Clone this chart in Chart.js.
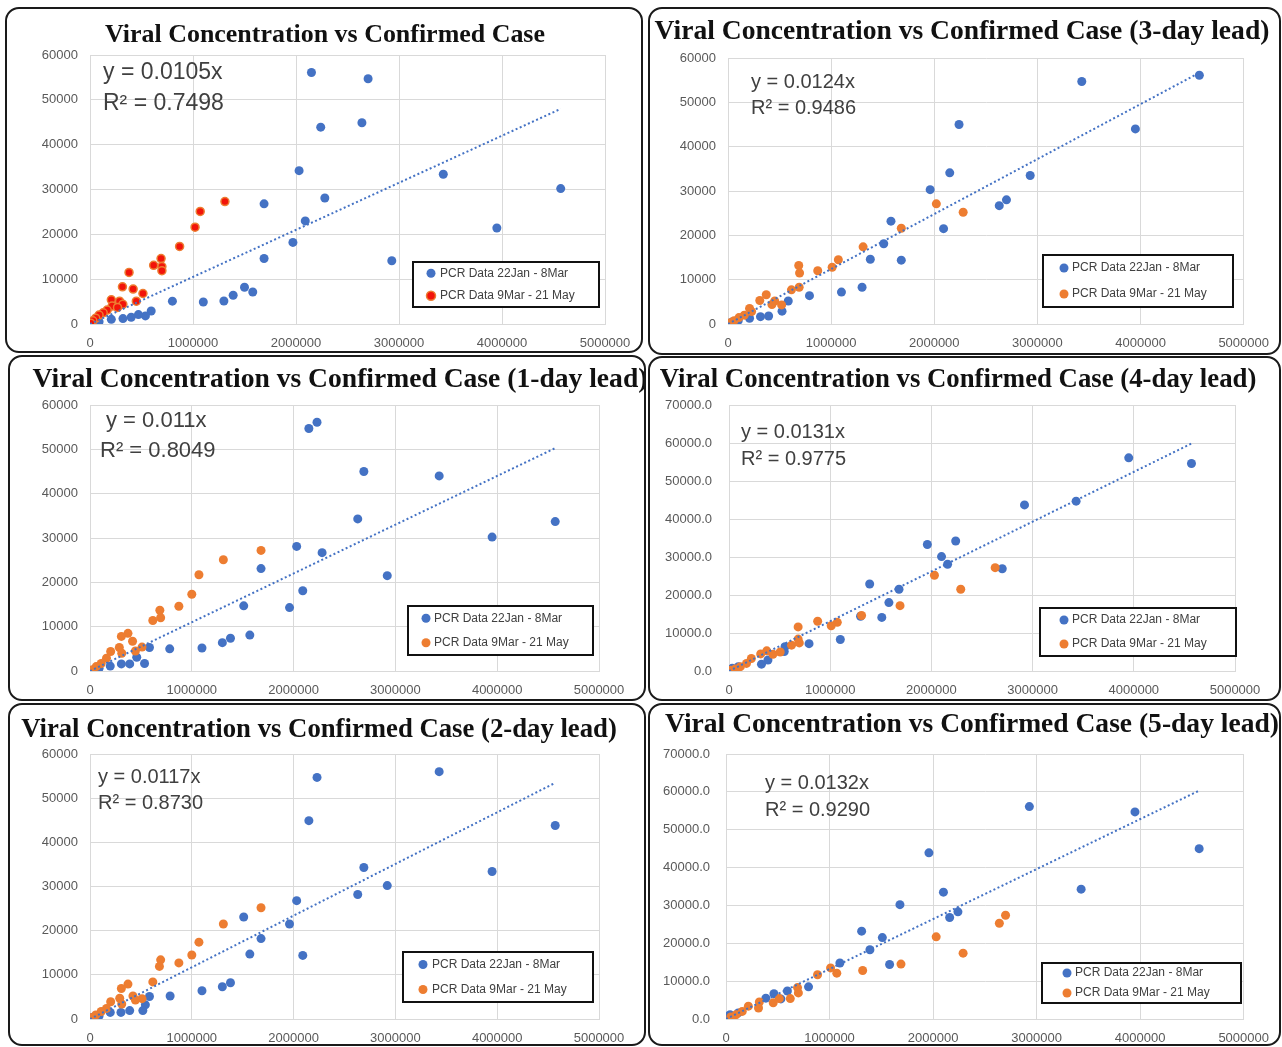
<!DOCTYPE html>
<html>
<head>
<meta charset="utf-8">
<script src="https://cdn.jsdelivr.net/npm/chart.js@4"></script>
<style>
  body { margin: 0; background: #fff; width: 1282px; height: 1047px; position: relative; overflow: hidden; }
  canvas { position: absolute; }
  .frame { position: absolute; box-sizing: border-box; border: 2px solid #1a1a1a; border-radius: 14px; pointer-events: none; }
</style>
</head>
<body>
<script>
// ---- data: [confirmed case, viral concentration] ----
const lead0Early = [[2150000,56100],[2700000,54700],[2240000,43900],[2640000,44900],[2030000,34200],[3430000,33400],[4570000,30200],[2280000,28100],[1690000,26800],[2090000,23000],[3950000,21400],[1970000,18200],[1690000,14600],[2930000,14100],[1500000,8200],[1580000,7150],[1390000,6400],[1300000,5140],[1100000,4900],[800000,5100],[594000,2900],[538000,1800],[470000,2100],[400000,1500],[320000,1200],[207000,1040],[88000,520],[40000,300],[8000,150]];
const lead0Late = [[1310000,27300],[1070000,25100],[1020000,21600],[870000,17300],[690000,14600],[698000,12800],[698000,11900],[618000,13100],[379000,11500],[315000,8300],[419000,7800],[514000,6800],[207000,5400],[287000,5100],[450000,5100],[319000,4400],[215000,4000],[267000,3700],[167000,3100],[128000,2500],[88000,2000],[56000,1300],[28000,700],[8000,150]];

const lead1Early = [[2230000,56100],[2150000,54700],[2690000,45000],[3430000,44000],[2630000,34300],[4570000,33700],[3950000,30200],[2030000,28100],[2280000,26700],[1680000,23100],[2920000,21500],[2090000,18100],[1510000,14700],[1960000,14300],[1570000,8100],[1380000,7400],[1300000,6400],[1100000,5200],[783000,5000],[584000,5300],[459000,3100],[536000,1700],[390000,1600],[308000,1600],[199000,1100],[89000,600],[28000,200]];
const lead1Late = [[1680000,27200],[1310000,25100],[1070000,21700],[1000000,17300],[873000,14600],[686000,13700],[694000,12000],[617000,11400],[373000,8500],[308000,7800],[418000,6700],[511000,5400],[446000,4500],[288000,5300],[312000,4000],[203000,4400],[162000,2900],[110000,1700],[61000,1000],[16000,230]];

const lead2Early = [[3430000,56000],[2230000,54700],[2150000,44900],[4570000,43800],[2690000,34300],[3950000,33400],[2920000,30200],[2630000,28200],[2030000,26800],[1510000,23100],[1960000,21500],[1680000,18200],[1570000,14700],[2090000,14400],[1380000,8200],[1300000,7300],[1100000,6400],[787000,5200],[584000,5100],[544000,3200],[519000,1900],[390000,1900],[304000,1500],[199000,1500],[89000,680],[28000,380]];
const lead2Late = [[1680000,25200],[1310000,21500],[1070000,17400],[1000000,14500],[873000,12700],[694000,13400],[682000,11900],[617000,8400],[373000,7900],[308000,6900],[422000,5200],[511000,4600],[446000,4300],[312000,3400],[203000,3900],[292000,4700],[162000,2400],[110000,1700],[57000,910],[8000,300]];

const lead3Early = [[4570000,56100],[3430000,54700],[2240000,45000],[3950000,44000],[2150000,34100],[2930000,33500],[1960000,30300],[2700000,28000],[2630000,26700],[1580000,23200],[2090000,21500],[1510000,18100],[1380000,14600],[1680000,14400],[1300000,8300],[1100000,7200],[790000,6400],[584000,5200],[524000,2900],[394000,1800],[315000,1650],[209000,1300],[99000,750],[40000,450]];
const lead3Late = [[2020000,27100],[2280000,25200],[1680000,21600],[1310000,17400],[1070000,14500],[1010000,12800],[870000,12000],[686000,13200],[694000,11500],[690000,8300],[615000,7700],[371000,6600],[308000,5300],[453000,5200],[426000,4400],[520000,4300],[209000,3500],[229000,2800],[158000,2000],[106000,1450],[59000,750],[20000,300]];

const lead4Early = [[3950000,56100],[4570000,54600],[2920000,43700],[3430000,44700],[2240000,34200],[1960000,33300],[2100000,30100],[2160000,28100],[2700000,26900],[1390000,22900],[1680000,21500],[1580000,18000],[1510000,14100],[1300000,14400],[1100000,8300],[791000,7200],[546000,5100],[554000,6400],[385000,2900],[321000,1800],[92000,1150],[32000,700]];
const lead4Late = [[2630000,27200],[2030000,25200],[2290000,21500],[1690000,17200],[1310000,14600],[876000,13100],[1070000,12800],[1010000,11900],[683000,11600],[683000,8400],[695000,7400],[618000,6800],[373000,5300],[506000,5000],[434000,4400],[313000,4500],[221000,3300],[173000,2000],[112000,1150],[60000,500],[12000,180]];

const lead5Early = [[2930000,56100],[3950000,54700],[4570000,45000],[1960000,43900],[3430000,34300],[2100000,33500],[1680000,30200],[2240000,28300],[2160000,26800],[1310000,23200],[1510000,21500],[1390000,18300],[1580000,14400],[1100000,14800],[797000,8500],[593000,7400],[463000,6700],[385000,5500],[530000,5300],[118000,1600],[39000,1150],[10000,700]];
const lead5Late = [[2700000,27400],[2640000,25300],[2030000,21700],[2290000,17400],[1690000,14500],[1320000,12800],[1010000,13500],[1070000,12100],[884000,11700],[691000,8300],[699000,6900],[621000,5400],[515000,5400],[456000,4300],[322000,4500],[314000,2900],[216000,3400],[157000,2000],[98000,1150],[47000,530]];

const titles = ['Viral Concentration vs Confirmed Case', 'Viral Concentration vs Confirmed Case (1-day lead)', 'Viral Concentration vs Confirmed Case (2-day lead)',
                'Viral Concentration vs Confirmed Case (3-day lead)', 'Viral Concentration vs Confirmed Case (4-day lead)', 'Viral Concentration vs Confirmed Case (5-day lead)'];
const slopes = [0.0105, 0.011, 0.0117, 0.0124, 0.0131, 0.0132];
const rSquared = [0.7498, 0.8049, 0.8730, 0.9486, 0.9775, 0.9290];
const yMaxes = [60000, 60000, 60000, 60000, 70000, 70000];
const seriesNames = ['PCR Data 22Jan - 8Mar', 'PCR Data 9Mar - 21 May'];
const earlySets = [lead0Early, lead1Early, lead2Early, lead3Early, lead4Early, lead5Early];
const lateSets = [lead0Late, lead1Late, lead2Late, lead3Late, lead4Late, lead5Late];

// ---- layout (page pixels) ----
const layouts = [
  { box:[5,7,638,346],   plot:[90,55,605,324],    title:[325,35,440],  eq:[103,73,104,23], leg:[413,262,186,45,431,440], yPad:12 },
  { box:[8,355,638,346], plot:[90,405,599,671],   title:[340,380,615], eq:[106,421,451,22], leg:[408,606,185,49,426,434], yPad:12, eqX2:100 },
  { box:[8,703,638,343], plot:[90,754,599,1019],  title:[319,730,596], eq:[98,777,803,20],  leg:[403,952,190,50,423,432], yPad:12 },
  { box:[648,7,633,348], plot:[728,58,1244,324],  title:[962,32,615],  eq:[751,82,108,20],  leg:[1043,255,190,52,1064,1072], yPad:12 },
  { box:[648,356,633,345], plot:[729,405,1235,671], title:[958,380,597], eq:[741,432,459,20], leg:[1040,608,196,48,1064,1072], yPad:17 },
  { box:[648,703,633,343], plot:[726,754,1244,1019], title:[972,725,614], eq:[765,783,810,20], leg:[1042,963,199,40,1067,1075], yPad:16 }
];

const BLUE = '#4472C4', ORANGE = '#ED7D31';

const panelText = {
  id: 'panelText',
  afterDraw(chart, args, opts) {
    const ctx = chart.ctx;
    const L = opts.layout, i = opts.index;
    const ox = L.box[0], oy = L.box[1];
    ctx.save();
    // title
    ctx.font = 'bold 24px "Liberation Serif"';
    const fs = 24 * L.title[2] / ctx.measureText(titles[i]).width;
    ctx.font = 'bold ' + fs + 'px "Liberation Serif"';
    ctx.fillStyle = '#111';
    ctx.textAlign = 'center';
    ctx.textBaseline = 'middle';
    ctx.fillText(titles[i], L.title[0] - ox, L.title[1] - oy);
    // trendline equation
    ctx.font = L.eq[3] + 'px "Liberation Sans"';
    ctx.fillStyle = '#404040';
    ctx.textAlign = 'left';
    ctx.fillText('y = ' + slopes[i] + 'x', L.eq[0] - ox, L.eq[1] - oy);
    ctx.fillText('R\u00B2 = ' + rSquared[i].toFixed(4), (L.eqX2 || L.eq[0]) - ox, L.eq[2] - oy);
    // legend box
    const [lx, ly, lw, lh, dotX, txtX] = L.leg;
    ctx.fillStyle = '#fff';
    ctx.fillRect(lx - ox, ly - oy, lw, lh);
    ctx.strokeStyle = '#111';
    ctx.lineWidth = 2;
    ctx.strokeRect(lx - ox, ly - oy, lw, lh);
    ctx.font = '12px "Liberation Sans"';
    chart.data.datasets.slice(0, 2).forEach((ds, k) => {
      const ry = ly - oy + lh * (k === 0 ? 0.25 : 0.75);
      ctx.beginPath();
      ctx.arc(dotX - ox, ry, 4.5, 0, Math.PI * 2);
      ctx.fillStyle = ds.backgroundColor;
      ctx.fill();
      if (ds.borderColor !== ds.backgroundColor) {
        ctx.lineWidth = 1.5; ctx.strokeStyle = ds.borderColor; ctx.stroke();
      }
      ctx.fillStyle = '#404040';
      ctx.fillText(ds.label, txtX - ox, ry);
    });
    ctx.restore();
  }
};

layouts.forEach((L, i) => {
  const [bx, by, bw, bh] = L.box;
  const [pl, pt, pr, pb] = L.plot;
  const cv = document.createElement('canvas');
  cv.width = bw; cv.height = bh;
  cv.style.left = bx + 'px'; cv.style.top = by + 'px';
  document.body.appendChild(cv);
  const fr = document.createElement('div');
  fr.className = 'frame';
  fr.style.left = bx + 'px'; fr.style.top = by + 'px';
  fr.style.width = bw + 'px'; fr.style.height = bh + 'px';
  document.body.appendChild(fr);

  const early = earlySets[i].map(([x, y]) => ({ x, y }));
  const late = lateSets[i].map(([x, y]) => ({ x, y }));
  const xEnd = Math.max(...earlySets[i].map(p => p[0]));
  const xH = by + bh - pb;

  new Chart(cv, {
    type: 'scatter',
    data: {
      datasets: [
        { label: seriesNames[0], data: early, backgroundColor: BLUE, borderColor: BLUE, pointRadius: 4.5, borderWidth: 0, order: 2 },
        { label: seriesNames[1], data: late, backgroundColor: i === 0 ? '#F2140A' : ORANGE, borderColor: ORANGE,
          pointRadius: i === 0 ? 4 : 4.5, borderWidth: i === 0 ? 1.5 : 0, order: 1 },
        { label: 'trend', data: [{ x: 0, y: 0 }, { x: xEnd, y: slopes[i] * xEnd }], showLine: true, pointRadius: 0,
          borderColor: BLUE, borderWidth: 2, borderDash: [2, 2.5], order: 0 }
      ]
    },
    options: {
      responsive: false,
      animation: false,
      layout: { padding: { left: 0, top: pt - by, right: bx + bw - pr, bottom: 0 } },
      plugins: {
        legend: { display: false },
        tooltip: { enabled: false },
        panelText: { layout: L, index: i }
      },
      scales: {
        x: {
          type: 'linear', min: 0, max: 5000000,
          afterFit: s => { s.height = xH; },
          grid: { color: '#D9D9D9', drawTicks: false },
          border: { color: '#D9D9D9' },
          ticks: { stepSize: 1000000, autoSkip: false, maxRotation: 0, padding: 12, color: '#595959',
                   font: { family: 'Liberation Sans', size: 13 }, callback: v => String(v) }
        },
        y: {
          min: 0, max: yMaxes[i],
          afterFit: s => { s.width = pl - bx; },
          grid: { color: '#D9D9D9', drawTicks: false },
          border: { color: '#D9D9D9' },
          ticks: { stepSize: 10000, padding: L.yPad, color: '#595959', font: { family: 'Liberation Sans', size: 13 },
                   callback: v => yMaxes[i] > 60000 ? v.toFixed(1) : String(v) }
        }
      }
    },
    plugins: [panelText]
  });
});
</script>
</body>
</html>
